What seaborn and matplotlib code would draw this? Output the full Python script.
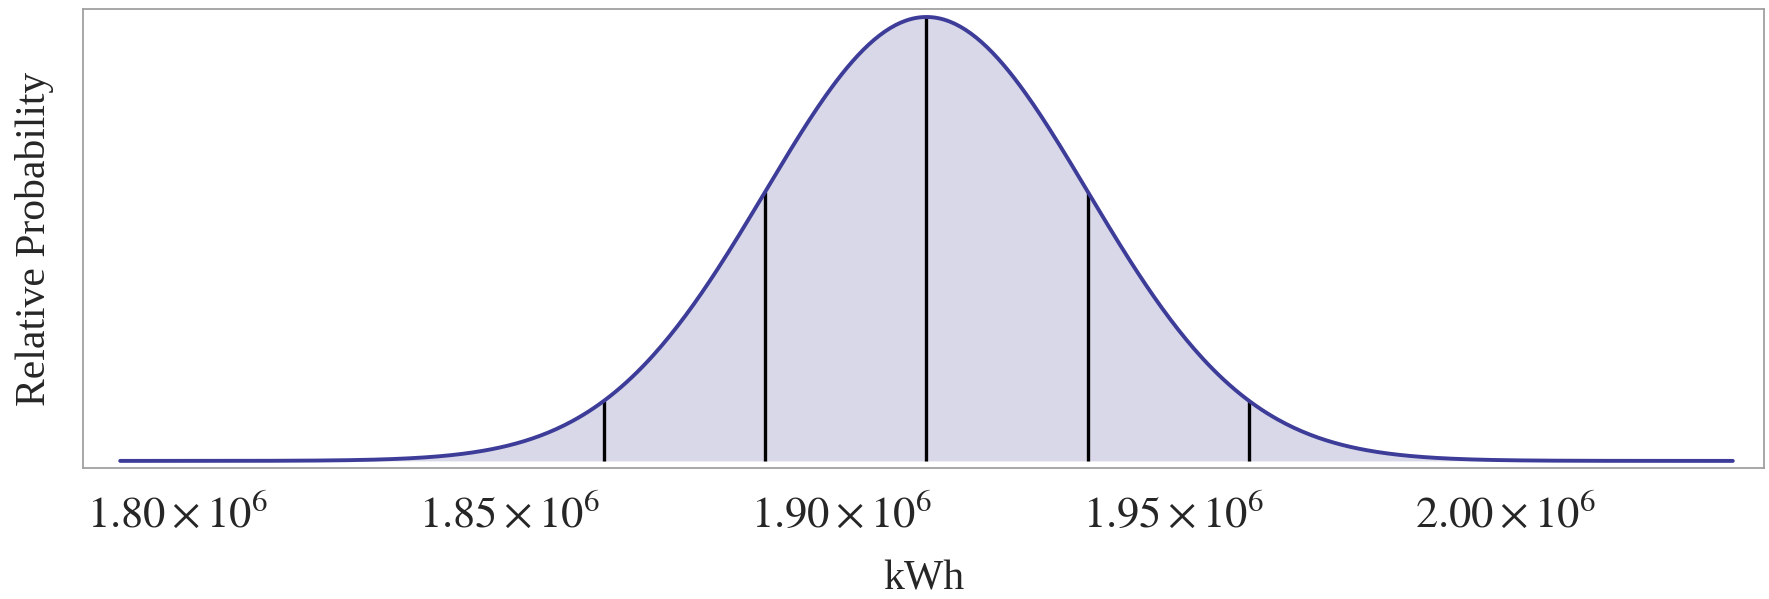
import numpy as np
import pandas as pd
import matplotlib
matplotlib.use('Agg')
import matplotlib.pyplot as plt
import matplotlib.ticker as mticker
import seaborn as sns

# ------ values ------
mean_kwh = 1.9128e6          # centre line
sd_kwh = 24300               # spacing of the sigma lines
sigma_marks = [-2, -1, 0, 1, 2]
curve_span = 5               # curve drawn over mean +/- 5 sd
major_ticks = [1.80e6, 1.85e6, 1.90e6, 1.95e6, 2.00e6]
tick_labels = [r'$1.80\times10^{6}$', r'$1.85\times10^{6}$', r'$1.90\times10^{6}$',
               r'$1.95\times10^{6}$', r'$2.00\times10^{6}$']
minor_step = 0.01e6
x_range = (1.7857e6, 2.0390e6)

line_col = '#3d3d99'
fill_col = '#d8d8e9'
frame_col = '#a0a0a0'

sns.set_style('white')
plt.rcParams['font.family'] = ['Liberation Serif', 'DejaVu Serif']
plt.rcParams['mathtext.fontset'] = 'stix'

# curve of relative probability (peak = 1)
kwh = np.linspace(mean_kwh - curve_span * sd_kwh, mean_kwh + curve_span * sd_kwh, 600)
rel_p = np.exp(-0.5 * ((kwh - mean_kwh) / sd_kwh) ** 2)
df = pd.DataFrame({'kWh': kwh, 'p': rel_p})

fig = plt.figure(figsize=(17.69, 5.99), dpi=100)
ax = fig.add_axes([83 / 1769, 1 - 468 / 599, (1764 - 83) / 1769, (468 - 9) / 599])

ax.fill_between(df['kWh'], 0, df['p'], color=fill_col, lw=0, zorder=1)
sns.lineplot(data=df, x='kWh', y='p', color=line_col, lw=2.8, ax=ax, zorder=3)

# vertical lines at the mean and +/- 1, 2 sd
marks = np.array(sigma_marks)
ax.vlines(mean_kwh + marks * sd_kwh, 0, np.exp(-0.5 * marks ** 2),
          color='black', lw=2.4, zorder=2)

ax.set_xlim(*x_range)
ax.set_ylim(-0.016, 1.018)
ax.set_xticks(major_ticks)
ax.set_xticklabels(tick_labels)
ax.xaxis.set_minor_locator(mticker.MultipleLocator(minor_step))
ax.set_yticks([])

ax.tick_params(axis='x', which='major', direction='in', length=3.2, width=1,
               color=frame_col, labelsize=32, pad=19)
ax.tick_params(axis='x', which='minor', direction='in', length=2, width=1,
               color=frame_col)

for s in ax.spines.values():
    s.set_color(frame_col)
    s.set_linewidth(1.3)

ax.set_xlabel('kWh', fontsize=30, labelpad=17)
ax.set_ylabel('Relative Probability', fontsize=30, labelpad=21)

fig.savefig('out.png', dpi=100)
